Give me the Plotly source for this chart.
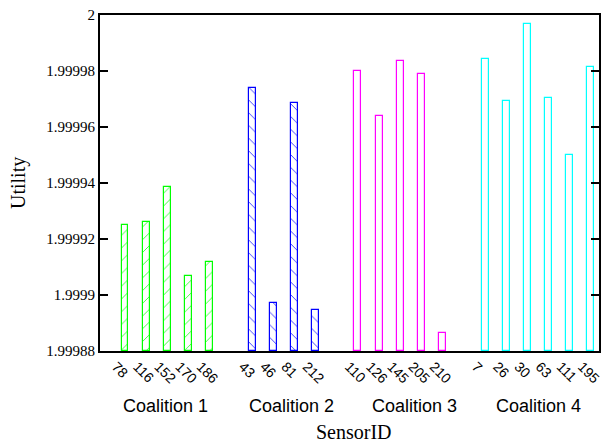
import plotly.graph_objects as go

YMIN = 1.99988
YMAX = 2.0

# Sensor IDs and utilities per coalition
c1_ids = ["78", "116", "152", "170", "186"]
c1_vals = [1.9999251, 1.9999259, 1.9999385, 1.9999067, 1.9999117]

c2_ids = ["43", "46", "81", "212"]
c2_vals = [1.9999738, 1.9998970, 1.9999685, 1.9998945]

c3_ids = ["110", "126", "145", "205", "210"]
c3_vals = [1.9999801, 1.9999641, 1.9999837, 1.9999788, 1.9998865]

c4_ids = ["7", "26", "30", "63", "111", "195"]
c4_vals = [1.9999842, 1.9999692, 1.9999969, 1.9999702, 1.9999500, 1.9999813]

coalition_names = ["Coalition 1", "Coalition 2", "Coalition 3", "Coalition 4"]
colors = ["#00ff00", "#0000ff", "#ff00ff", "#00ffff"]
patterns = ["/", "\\", "", ""]

groups = [(c1_ids, c1_vals), (c2_ids, c2_vals), (c3_ids, c3_vals), (c4_ids, c4_vals)]

fig = go.Figure()
tickvals, ticktext = [], []
centers = []
pos = 0
for gi, (ids, vals) in enumerate(groups):
    xs = list(range(pos, pos + len(ids)))
    centers.append(sum(xs) / len(xs))
    tickvals += xs
    ticktext += ids
    fig.add_trace(go.Bar(
        x=xs,
        y=[v - YMIN for v in vals],
        base=YMIN,
        width=0.33,
        marker=dict(
            color="white",
            line=dict(color=colors[gi], width=1.2),
            pattern=dict(shape=patterns[gi], fgcolor=colors[gi], bgcolor="white",
                         size=9, solidity=0.1, fgopacity=0.8),
        ),
        showlegend=False,
    ))
    pos += len(ids) + 1

label_x = [centers[0] - 0.1, centers[1] + 0.35, centers[2] + 0.65, centers[3]]
for name, cx in zip(coalition_names, label_x):
    fig.add_annotation(x=cx, y=0, xref="x", yref="paper", yshift=-55,
                       text=name, showarrow=False,
                       font=dict(family="Liberation Sans, Arial", size=18, color="black"),
                       yanchor="middle")

serif = "Liberation Serif, Times New Roman"
fig.add_annotation(x=0.51, y=0, xref="paper", yref="paper", yshift=-81,
                   text="SensorID", showarrow=False, yanchor="middle",
                   font=dict(family=serif, size=20, color="black"))
fig.add_annotation(x=0, y=0.5, xref="paper", yref="paper", xshift=-82,
                   text="Utility", showarrow=False, textangle=-90, xanchor="center",
                   font=dict(family=serif, size=20, color="black"))

fig.update_layout(
    width=605, height=444,
    margin=dict(l=100, r=6, t=15, b=93),
    plot_bgcolor="white", paper_bgcolor="white",
    bargap=0,
    xaxis=dict(
        range=[-1.18, 22.38], automargin=False,
        tickvals=tickvals, ticktext=ticktext, tickangle=45,
        ticklabeloverflow="allow", ticklabelshift=-9, ticklabelstandoff=0,
        tickfont=dict(family="Liberation Sans, Arial", size=14, color="black"),
        showgrid=False, zeroline=False,
        showline=True, linecolor="black", linewidth=2, mirror=True,
        ticks="", ticklen=0,
    ),
    yaxis=dict(
        range=[YMIN, YMAX], automargin=False,
        tickvals=[1.99988, 1.9999, 1.99992, 1.99994, 1.99996, 1.99998, 2.0],
        ticktext=["1.99988", "1.9999", "1.99992", "1.99994", "1.99996", "1.99998", "2"],
        tickfont=dict(family=serif, size=15, color="black"),
        showgrid=False, zeroline=False,
        showline=True, linecolor="black", linewidth=2, mirror="ticks",
        ticks="inside", ticklen=8, tickwidth=2, tickcolor="black",
    ),
)

fig.write_html("out.html")
